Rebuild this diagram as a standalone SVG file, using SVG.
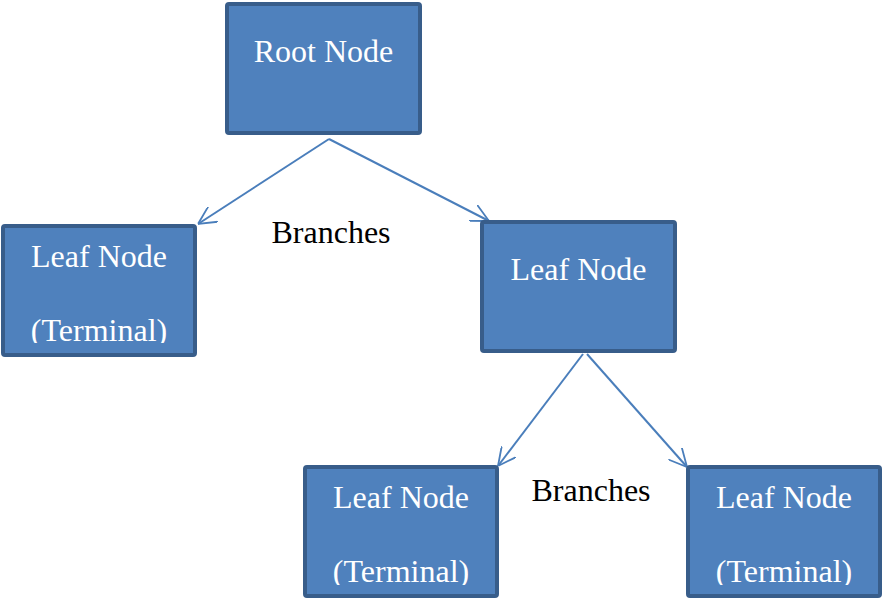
<svg xmlns="http://www.w3.org/2000/svg" width="883" height="600" viewBox="0 0 883 600">
<style>
.box{fill:#4f81bd;stroke:#385d8a;stroke-width:4}
.nt{font-family:'Liberation Serif','DejaVu Serif',serif;font-size:32px;fill:#ffffff;text-anchor:middle}
.lbl{font-family:'Liberation Serif','DejaVu Serif',serif;font-size:32px;fill:#000000;text-anchor:middle}
.conn{stroke:#4a7ebb;stroke-width:2;fill:none;marker-end:url(#arr)}
</style>
<defs>
<marker id="arr" viewBox="0 0 10 10" refX="10" refY="5" markerWidth="9" markerHeight="9" orient="auto" markerUnits="strokeWidth">
<path d="M0,0 L10,5 L0,10" fill="none" stroke="#4a7ebb" stroke-width="1"/>
</marker>
<clipPath id="c1"><rect x="0" y="224" width="200" height="119"/></clipPath>
<clipPath id="c3"><rect x="300" y="465" width="200" height="120"/></clipPath>
<clipPath id="c4"><rect x="684" y="465" width="199" height="120"/></clipPath>
</defs>
<g id="connectors">
<line class="conn" x1="329" y1="139" x2="198" y2="224"/>
<line class="conn" x1="329" y1="139" x2="489" y2="221"/>
<line class="conn" x1="583" y1="354" x2="498" y2="466"/>
<line class="conn" x1="587" y1="354" x2="687" y2="467"/>
</g>
<g id="root">
<rect class="box" x="227" y="4" width="193" height="129" rx="2"/>
<text class="nt" x="323.5" y="62">Root Node</text>
</g>
<g id="leaf1">
<rect class="box" x="3" y="226" width="192" height="129" rx="2"/>
<g clip-path="url(#c1)">
<text class="nt" x="99" y="267">Leaf Node</text>
<text class="nt" x="99" y="341">(Terminal)</text>
</g>
</g>
<g id="leaf2">
<rect class="box" x="482" y="222" width="193" height="129" rx="2"/>
<text class="nt" x="578.5" y="280">Leaf Node</text>
</g>
<g id="leaf3">
<rect class="box" x="305" y="467" width="192" height="129" rx="2"/>
<g clip-path="url(#c3)">
<text class="nt" x="401" y="508">Leaf Node</text>
<text class="nt" x="401" y="582">(Terminal)</text>
</g>
</g>
<g id="leaf4">
<rect class="box" x="688" y="467" width="192" height="129" rx="2"/>
<g clip-path="url(#c4)">
<text class="nt" x="784" y="508">Leaf Node</text>
<text class="nt" x="784" y="582">(Terminal)</text>
</g>
</g>
<g id="labels">
<text class="lbl" x="331" y="243">Branches</text>
<text class="lbl" x="591" y="501">Branches</text>
</g>
</svg>
